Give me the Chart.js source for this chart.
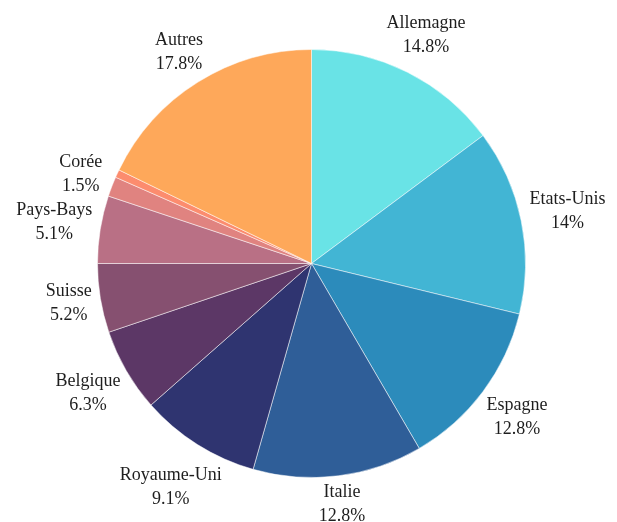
<!DOCTYPE html>
<html>
<head>
<meta charset="utf-8">
<script src="https://cdn.jsdelivr.net/npm/chart.js@4/dist/chart.umd.min.js"></script>
<style>
  html, body { margin: 0; padding: 0; background: #fff; }
  #wrap { width: 617px; height: 522px; position: relative; }
</style>
</head>
<body>
<div id="wrap"><canvas id="pie"></canvas></div>
<script>
// données (sens horaire depuis le haut)
const pays = ['Allemagne', 'Etats-Unis', 'Espagne', 'Italie', 'Royaume-Uni', 'Belgique',
              'Suisse', 'Pays-Bays', 'Corée', '', 'Autres'];
const parts = [14.8, 14, 12.8, 12.8, 9.1, 6.3, 5.2, 5.1, 1.5, 0.6, 17.8];
const couleurs = ['#69e3e6', '#42b5d4', '#2c8bbb', '#2f5e98', '#2f3470', '#5c3766',
                  '#865070', '#b97085', '#e08380', '#fc8c6e', '#fea85a'];

// labels dehors : nom + pourcentage
const outsideLabels = {
    id: 'outsideLabels',
    afterDatasetsDraw(chart) {
        const ctx = chart.ctx;
        const meta = chart.getDatasetMeta(0);
        ctx.save();
        ctx.font = '18px "Liberation Serif", serif';
        ctx.fillStyle = '#1e1e1e';
        ctx.textAlign = 'center';
        ctx.textBaseline = 'middle';
        meta.data.forEach((arc, i) => {
            if (!pays[i]) return;
            const mid = (arc.startAngle + arc.endAngle) / 2;
            const dx = Math.cos(mid), dy = Math.sin(mid);
            const txt = parts[i] + '%';
            const w = Math.max(ctx.measureText(pays[i]).width, ctx.measureText(txt).width);
            const d = arc.outerRadius + 6 + Math.abs(dx) * w / 2 + Math.abs(dy) * 20;
            const cx = arc.x + dx * d;
            const cy = arc.y + dy * d;
            ctx.fillText(pays[i], cx, cy - 12);
            ctx.fillText(txt, cx, cy + 12);
        });
        ctx.restore();
    }
};

new Chart(document.getElementById('pie'), {
    type: 'pie',
    data: {
        labels: pays,
        datasets: [{
            data: parts,
            backgroundColor: couleurs,
            borderColor: 'rgba(255,255,255,0.5)',
            borderWidth: 1
        }]
    },
    options: {
        responsive: true,
        maintainAspectRatio: false,
        animation: false,
        layout: { padding: { left: 97, right: 91, top: 49, bottom: 44 } },
        plugins: {
            legend: { display: false },
            tooltip: { enabled: false }
        }
    },
    plugins: [outsideLabels]
});
</script>
</body>
</html>
